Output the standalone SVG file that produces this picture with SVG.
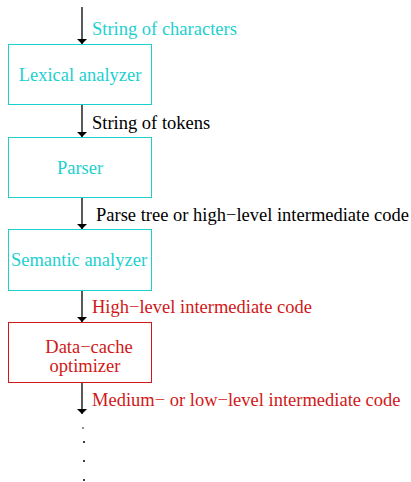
<svg xmlns="http://www.w3.org/2000/svg" width="411" height="482" viewBox="0 0 411 482">
<defs>
<marker id="ah" viewBox="0 0 10 10" refX="10" refY="5" markerWidth="5" markerHeight="10" markerUnits="userSpaceOnUse" orient="auto" preserveAspectRatio="none"><path d="M0,0 L10,5 L0,10 Z" fill="#000"/></marker>
</defs>
<style>
.t{font-family:"Liberation Serif","Times New Roman",serif;font-size:18.5px}
</style>
<rect width="411" height="482" fill="#fff"/>
<g id="connectors" stroke="#000" stroke-width="1.3" fill="none">
<line x1="82" y1="7" x2="82" y2="44" marker-end="url(#ah)"/>
<line x1="82" y1="104" x2="82" y2="137" marker-end="url(#ah)"/>
<line x1="82" y1="197" x2="82" y2="229" marker-end="url(#ah)"/>
<line x1="82" y1="290" x2="82" y2="322" marker-end="url(#ah)"/>
<line x1="82" y1="382" x2="82" y2="414" marker-end="url(#ah)"/>
</g>
<g id="labels">
<text class="t" x="92" y="35" fill="#1dd0d0">String of characters</text>
<text class="t" x="92" y="129" fill="#000">String of tokens</text>
<text class="t" x="96" y="221" fill="#000">Parse tree or high−level intermediate code</text>
<text class="t" x="92" y="313" fill="#d01818">High−level intermediate code</text>
<text class="t" x="92" y="406" fill="#d01818">Medium− or low−level intermediate code</text>
</g>
<g id="lexical"><rect x="8.5" y="44.5" width="143" height="60" fill="#fff" stroke="#1dd0d0"/><text class="t" x="80" y="81" text-anchor="middle" fill="#1dd0d0">Lexical analyzer</text></g>
<g id="parser"><rect x="8.5" y="137.5" width="143" height="60" fill="#fff" stroke="#1dd0d0"/><text class="t" x="80" y="174" text-anchor="middle" fill="#1dd0d0">Parser</text></g>
<g id="semantic"><rect x="8.5" y="229.5" width="143" height="61" fill="#fff" stroke="#1dd0d0"/><text class="t" x="79" y="266" text-anchor="middle" fill="#1dd0d0">Semantic analyzer</text></g>
<g id="datacache"><rect x="8.5" y="322.5" width="143" height="60" fill="#fff" stroke="#d01818"/><text class="t" x="89" y="353" text-anchor="middle" fill="#d01818">Data−cache</text><text class="t" x="85" y="372" text-anchor="middle" fill="#d01818">optimizer</text></g>
<g id="dots" fill="#000"><circle cx="83" cy="428" r="0.8"/><circle cx="84" cy="442" r="1"/><circle cx="84" cy="461" r="1"/><circle cx="84" cy="480" r="1"/></g>
</svg>
